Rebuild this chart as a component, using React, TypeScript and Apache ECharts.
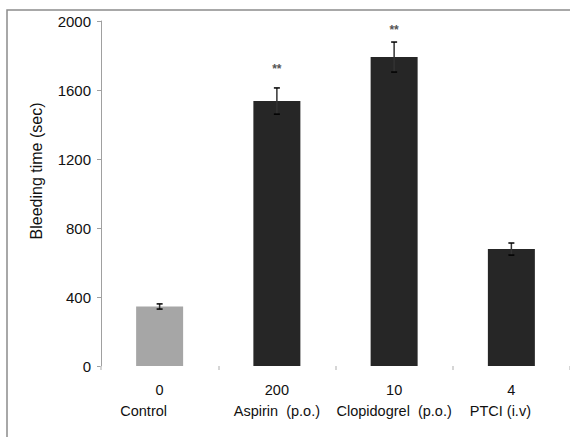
import React, { useEffect, useRef } from "react";
import * as echarts from "echarts";

const doses = ["0", "200", "10", "4"];
const groups = ["Control", "Aspirin  (p.o.)", "Clopidogrel  (p.o.)", "PTCI (i.v)"];
const labelShift = [32, 0, 0, 22];
const meanValues = [345, 1536, 1791, 678];
const errorValues = [15, 76, 87, 35];
const significance = ["", "**", "**", ""];
const sigMarkY = [0, 1722, 1948, 0];
const barColors = ["#a6a6a6", "#262626", "#262626", "#262626"];
const yTicks = [0, 400, 800, 1200, 1600, 2000];

export default function App() {
  const ref = useRef<HTMLDivElement>(null);
  useEffect(() => {
    document.body.style.margin = "0";
    const chart = echarts.init(ref.current!, null, { renderer: "svg" });
    const cats = doses.map((d, i) => `${d}|${i}`);
    chart.setOption({
      animation: false,
      backgroundColor: "#ffffff",
      grid: { left: 101, right: -2, top: 21, bottom: 71, containLabel: false },
      xAxis: {
        type: "category",
        data: cats,
        axisLine: { show: false },
        axisTick: { show: true, length: 4, lineStyle: { color: "#c8c8c8", width: 1.5 } },
        axisLabel: {
          interval: 0,
          margin: 13,
          formatter: (v: string) => {
            const i = Number(v.split("|")[1]);
            return `{d|${doses[i]}}\n{g${i}|${groups[i]}}`;
          },
          rich: Object.assign(
            { d: { fontSize: 14.5, color: "#111", fontFamily: "Liberation Sans, Arial", lineHeight: 21 } },
            ...groups.map((_, i) => ({
              ["g" + i]: {
                fontSize: 14.5,
                color: "#111",
                fontFamily: "Liberation Sans, Arial",
                lineHeight: 21,
                padding: [0, labelShift[i], 0, 0],
              },
            }))
          ),
        },
      },
      yAxis: {
        type: "value",
        min: 0,
        max: 2000,
        interval: 400,
        axisLine: { show: true, lineStyle: { color: "#a0a0a0", width: 1 } },
        axisTick: { show: true, length: 4, lineStyle: { color: "#a0a0a0" } },
        splitLine: { show: false },
        axisLabel: {
          margin: 10,
          fontSize: 15,
          color: "#111",
          fontFamily: "Liberation Sans, Arial",
          formatter: (v: number) => (yTicks.includes(v) ? String(v) : ""),
        },
      },
      graphic: [
        {
          type: "rect",
          shape: { x: 7, y: 10, width: 700, height: 600 },
          style: { fill: "none", stroke: "#8c8c8c", lineWidth: 1.5 },
          silent: true,
        },
        {
          type: "text",
          x: 36,
          y: 171,
          rotation: Math.PI / 2,
          style: {
            text: "Bleeding time (sec)",
            fontSize: 16,
            fill: "#111",
            fontFamily: "Liberation Sans, Arial",
            align: "center",
            verticalAlign: "middle",
          },
        },
      ],
      series: [
        {
          type: "bar",
          barWidth: 47,
          data: meanValues.map((v, i) => ({ value: v, itemStyle: { color: barColors[i] } })),
        },
        {
          type: "custom",
          data: meanValues.map((v, i) => [i, v - errorValues[i], v + errorValues[i], sigMarkY[i]]),
          renderItem: (params: any, api: any) => {
            const i = api.value(0);
            const lo = api.coord([i, api.value(1)]);
            const hi = api.coord([i, api.value(2)]);
            const x = lo[0];
            const capW = 3;
            const children: any[] = [
              { type: "line", shape: { x1: x, y1: lo[1], x2: x, y2: hi[1] }, style: { stroke: "#333", lineWidth: 1.5 } },
              { type: "line", shape: { x1: x - capW, y1: lo[1], x2: x + capW, y2: lo[1] }, style: { stroke: "#000", lineWidth: 1.5 } },
              { type: "line", shape: { x1: x - capW, y1: hi[1], x2: x + capW, y2: hi[1] }, style: { stroke: "#000", lineWidth: 1.5 } },
            ];
            const idx = params.dataIndex;
            if (significance[idx]) {
              const p = api.coord([i, api.value(3)]);
              children.push({
                type: "text",
                x: p[0],
                y: p[1],
                style: {
                  text: significance[idx],
                  fontSize: 12,
                  fontWeight: "bold",
                  fill: "#555",
                  fontFamily: "Liberation Sans, Arial",
                  align: "center",
                  verticalAlign: "middle",
                },
              });
            }
            return { type: "group", children };
          },
          z: 5,
        },
      ],
    });
    return () => chart.dispose();
  }, []);
  return <div ref={ref} style={{ width: 570, height: 437 }} />;
}
